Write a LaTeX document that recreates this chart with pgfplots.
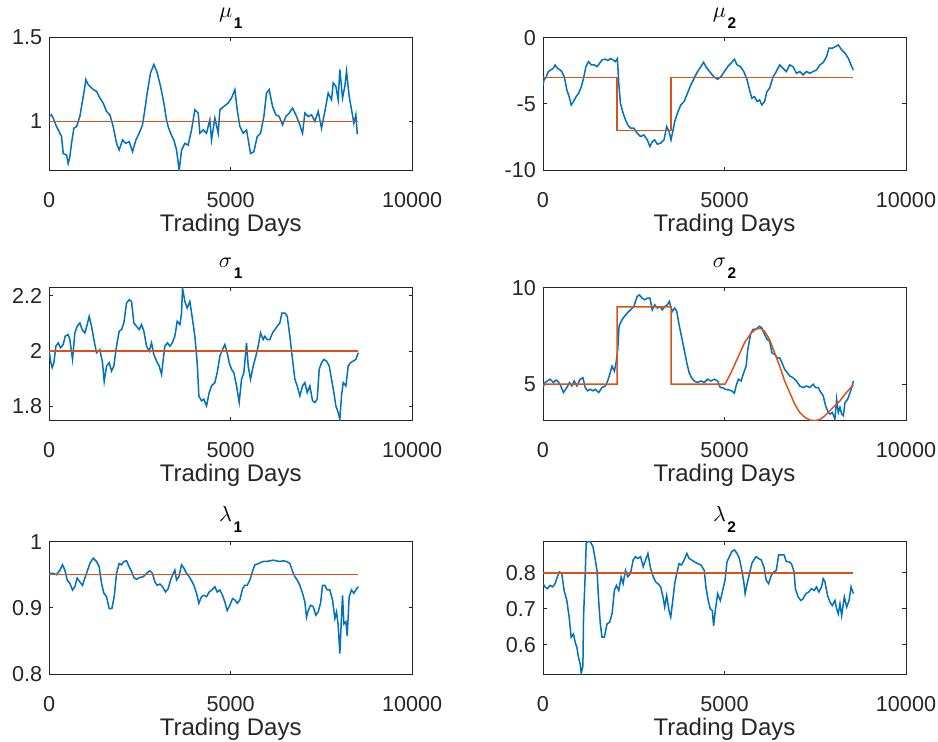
\documentclass[border=0pt]{standalone}
\usepackage{fontspec}
\setmainfont{Liberation Sans}
\usepackage{pgfplots}
\pgfplotsset{compat=1.18}
\definecolor{mblue}{RGB}{0,114,189}
\definecolor{morange}{RGB}{217,83,25}
\definecolor{axgray}{RGB}{38,38,38}
\pgfplotsset{
  mstyle/.style={
    scale only axis, width=181.5pt, height=66.3pt,
    xmin=0, xmax=10000, xtick={0,5000,10000},
    scaled x ticks=false, scaled y ticks=false,
    /pgf/number format/1000 sep={},
    /pgf/number format/assume math mode=true,
    tick align=inside, major tick length=1.8pt,
    axis line style={axgray, line width=0.5pt},
    every tick/.style={axgray, line width=0.5pt},
    tick label style={font=\fontsize{10.8}{13}\selectfont, text=axgray},
    xticklabel style={yshift=-7.4pt},
    xlabel={Trading Days},
    xlabel style={at={(axis description cs:0.5,0)}, anchor=base, yshift=-30.5pt, font=\fontsize{12}{14}\selectfont, text=axgray},
    every axis title shift=0pt,
    title style={at={(axis description cs:0.5,1)}, anchor=base, yshift=10pt, font=\fontsize{11}{13}\selectfont},
    every axis plot/.append style={line width=0.75pt},
    anchor=north west,
  }
}
\newcommand{\sub}[1]{\hspace{0.8pt}\raisebox{-5.5pt}{\fontsize{7.7}{9}\selectfont\bfseries #1}}
\begin{document}
\begin{tikzpicture}
\path[use as bounding box] (0,0) rectangle (469pt,-371pt);
% mu_1
\begin{axis}[mstyle, at={(24.6pt,-18.8pt)}, ymin=0.71, ymax=1.5, ytick={1,1.5}, title={$\mu$\sub{1}}]
\addplot[mblue] coordinates {(0,1.03)(64,1.04)(110,1.02)(202,0.97)(275,0.94)(340,0.91)(386,0.81)(478,0.80)(523,0.75)(569,0.79)(615,0.87)(680,0.96)(753,0.97)(845,1.03)(891,1.09)(955,1.17)(1010,1.25)(1074,1.22)(1212,1.19)(1304,1.18)(1396,1.14)(1488,1.11)(1579,1.06)(1671,1.04)(1763,0.97)(1855,0.87)(1928,0.83)(2020,0.89)(2112,0.87)(2204,0.88)(2296,0.82)(2388,0.89)(2479,0.93)(2571,0.98)(2635,1.07)(2700,1.17)(2792,1.29)(2883,1.34)(2975,1.29)(3067,1.21)(3159,1.11)(3232,1.01)(3278,0.97)(3343,0.93)(3434,0.89)(3508,0.83)(3581,0.71)(3646,0.83)(3737,0.87)(3829,0.86)(3921,0.95)(4013,1.07)(4105,1.05)(4151,0.93)(4242,0.95)(4334,0.93)(4426,1.01)(4472,0.89)(4564,1.02)(4656,0.93)(4702,1.07)(4812,1.09)(4931,1.11)(5023,1.14)(5115,1.19)(5179,1.07)(5253,0.97)(5344,0.93)(5436,0.95)(5546,0.81)(5638,0.82)(5730,0.91)(5822,0.93)(5914,1.03)(5987,1.17)(6061,1.19)(6152,1.09)(6244,1.04)(6336,1.03)(6428,0.98)(6520,1.03)(6612,1.05)(6703,1.08)(6795,1.04)(6887,0.99)(6979,0.93)(7043,1.05)(7135,1.03)(7227,1.04)(7319,1.00)(7410,1.06)(7502,0.96)(7594,1.06)(7686,1.17)(7778,1.13)(7824,1.23)(7897,1.21)(7961,1.13)(8007,1.31)(8081,1.14)(8145,1.21)(8191,1.30)(8264,1.15)(8329,1.07)(8393,0.99)(8448,1.04)(8485,0.93)(8512,0.93)};
\addplot[morange] coordinates {(0,1)(8512,1)};
\end{axis}
% mu_2
\begin{axis}[mstyle, at={(271.5pt,-18.8pt)}, ymin=-10, ymax=0, ytick={-10,-5,0}, title={$\mu$\sub{2}}]
\addplot[mblue] coordinates {(0,-3.57)(28,-3.19)(83,-2.99)(148,-2.56)(212,-2.44)(286,-2.31)(332,-2.06)(397,-2.31)(471,-2.44)(517,-2.56)(591,-2.99)(656,-3.94)(720,-4.45)(776,-5.08)(840,-4.82)(914,-4.45)(979,-4.20)(1053,-3.74)(1117,-3.07)(1182,-2.19)(1256,-1.81)(1330,-2.06)(1413,-2.06)(1487,-2.19)(1561,-1.93)(1625,-1.68)(1718,-1.63)(1791,-1.73)(1856,-1.58)(1930,-1.68)(1995,-1.81)(2050,-1.58)(2087,-3.44)(2133,-4.95)(2207,-5.70)(2272,-6.21)(2336,-6.58)(2410,-6.83)(2502,-6.83)(2595,-7.21)(2687,-7.46)(2779,-7.34)(2872,-7.71)(2946,-8.22)(3010,-7.84)(3075,-7.71)(3149,-8.04)(3241,-7.96)(3333,-7.71)(3407,-6.71)(3472,-7.09)(3527,-7.71)(3574,-7.09)(3629,-6.33)(3703,-5.70)(3795,-5.08)(3888,-4.82)(3980,-4.20)(4072,-3.57)(4165,-3.07)(4257,-2.56)(4349,-2.19)(4423,-1.86)(4488,-2.19)(4552,-2.44)(4626,-2.69)(4719,-2.99)(4811,-3.14)(4903,-2.94)(4996,-2.56)(5088,-2.19)(5180,-1.93)(5273,-1.63)(5346,-2.06)(5439,-2.19)(5531,-2.56)(5623,-3.19)(5688,-3.94)(5753,-4.57)(5827,-4.45)(5900,-4.82)(5965,-4.70)(6030,-5.08)(6104,-4.82)(6168,-4.07)(6242,-3.82)(6334,-2.99)(6427,-2.56)(6519,-2.06)(6611,-2.31)(6704,-2.56)(6796,-2.06)(6888,-2.19)(6981,-2.69)(7073,-2.56)(7165,-2.81)(7258,-2.56)(7350,-2.69)(7442,-2.56)(7535,-2.44)(7627,-2.06)(7719,-1.88)(7812,-1.43)(7876,-0.80)(7969,-0.80)(8061,-0.68)(8135,-0.55)(8227,-0.93)(8320,-1.18)(8412,-1.56)(8504,-2.19)(8550,-2.44)};
\addplot[morange] coordinates {(0,-3)(2040,-3)(2040,-7)(3527,-7)(3527,-3)(8550,-3)};
\end{axis}
% sigma_1
\begin{axis}[mstyle, at={(24.6pt,-143.8pt)}, ymin=1.75, ymax=2.23, ytick={1.8,2,2.2}, title={$\sigma$\sub{1}}]
\addplot[mblue] coordinates {(0,2.00)(37,1.964)(83,1.94)(129,1.958)(184,2.018)(248,2.03)(312,2.012)(386,2.024)(441,2.054)(523,2.06)(569,2.042)(643,1.97)(707,2.066)(771,2.09)(845,2.102)(909,2.078)(983,2.066)(1047,2.096)(1102,2.126)(1166,2.09)(1231,2.042)(1304,1.994)(1396,2.006)(1469,1.958)(1515,1.89)(1579,1.946)(1653,1.958)(1717,1.928)(1781,1.946)(1855,2.018)(1928,2.072)(1993,2.078)(2057,2.102)(2130,2.174)(2204,2.186)(2268,2.18)(2332,2.102)(2406,2.09)(2479,2.078)(2544,2.096)(2608,2.072)(2681,2.018)(2755,2.00)(2819,2.03)(2883,1.988)(2957,1.964)(3030,1.946)(3095,1.916)(3141,1.97)(3186,2.018)(3260,2.03)(3324,2.018)(3389,2.03)(3462,2.054)(3526,2.108)(3600,2.096)(3646,2.138)(3673,2.228)(3737,2.18)(3802,2.156)(3875,2.18)(3949,2.114)(4013,2.054)(4077,1.958)(4123,1.838)(4197,1.82)(4261,1.826)(4334,1.802)(4408,1.85)(4472,1.874)(4564,1.886)(4628,1.922)(4702,1.982)(4775,2.006)(4839,2.024)(4904,1.994)(4959,1.958)(5023,1.934)(5087,1.922)(5161,1.874)(5234,1.814)(5298,1.898)(5363,1.922)(5436,2.03)(5482,1.946)(5546,1.898)(5620,1.946)(5693,1.982)(5758,2.018)(5822,2.066)(5895,2.042)(5941,2.054)(6006,2.042)(6079,2.042)(6152,2.066)(6217,2.078)(6281,2.09)(6354,2.102)(6410,2.138)(6492,2.138)(6557,2.126)(6630,2.054)(6703,1.97)(6768,1.898)(6832,1.874)(6906,1.838)(6979,1.874)(7043,1.886)(7108,1.85)(7181,1.874)(7255,1.82)(7319,1.814)(7383,1.826)(7438,1.934)(7502,1.958)(7567,1.97)(7640,1.964)(7714,1.946)(7778,1.898)(7842,1.85)(7897,1.802)(7961,1.778)(8007,1.754)(8053,1.838)(8099,1.886)(8173,1.874)(8237,1.946)(8301,1.958)(8375,1.964)(8448,1.97)(8512,1.994)};
\addplot[morange] coordinates {(0,2)(8512,2)};
\end{axis}
% sigma_2
\begin{axis}[mstyle, at={(271.5pt,-143.8pt)}, ymin=3.14, ymax=10, ytick={5,10}, title={$\sigma$\sub{2}}]
\addplot[mblue] coordinates {(0,4.83)(55,5.09)(120,5.17)(194,5.26)(286,5.09)(360,5.22)(425,5.12)(489,4.91)(563,4.57)(656,4.83)(730,5.09)(794,4.91)(859,5.17)(933,4.91)(1025,5.26)(1099,5.34)(1163,4.83)(1228,4.66)(1302,4.74)(1376,4.66)(1441,4.74)(1533,4.57)(1625,4.83)(1718,4.91)(1782,5.17)(1838,5.51)(1902,5.94)(1967,5.68)(2013,6.11)(2059,6.80)(2096,8.00)(2133,8.17)(2179,8.34)(2244,8.51)(2318,8.68)(2410,8.85)(2502,9.02)(2595,9.54)(2659,9.62)(2733,9.45)(2798,9.37)(2872,9.45)(2946,9.45)(3010,8.85)(3075,9.11)(3149,8.94)(3223,9.02)(3287,8.85)(3352,9.02)(3426,9.11)(3481,9.28)(3518,9.02)(3564,8.77)(3629,8.94)(3684,8.77)(3740,8.17)(3814,7.48)(3888,6.80)(3961,6.11)(4026,5.60)(4091,5.34)(4165,5.17)(4257,5.09)(4349,5.17)(4442,5.09)(4534,5.26)(4626,5.17)(4719,5.26)(4811,5.17)(4885,4.83)(4949,4.83)(5014,4.74)(5106,4.71)(5198,4.66)(5273,4.54)(5319,4.91)(5383,5.26)(5457,5.17)(5531,5.60)(5596,5.94)(5642,6.80)(5716,7.57)(5781,7.83)(5873,7.86)(5965,8.00)(6030,7.91)(6104,7.57)(6178,7.31)(6242,7.23)(6307,6.63)(6381,6.54)(6455,6.37)(6519,6.37)(6584,6.11)(6658,5.77)(6731,5.60)(6796,5.43)(6888,5.34)(6981,5.17)(7073,4.91)(7165,4.83)(7258,4.91)(7350,4.83)(7442,5.00)(7507,4.83)(7581,4.83)(7655,4.57)(7719,4.40)(7784,3.89)(7858,3.54)(7904,3.46)(7969,3.54)(8043,3.20)(8089,4.23)(8135,3.54)(8181,3.80)(8227,3.46)(8274,3.37)(8320,4.06)(8394,4.23)(8458,4.57)(8504,4.83)(8550,5.17)};
\addplot[morange] coordinates {(0,5)(2040,5)(2040,9)(3527,9)(3527,5)(5014,5)(5180,5.6)(5365,6.37)(5550,7.14)(5734,7.65)(5873,7.86)(5993,7.89)(6104,7.74)(6242,7.31)(6381,6.63)(6519,5.94)(6658,5.17)(6796,4.57)(6935,3.97)(7073,3.54)(7212,3.29)(7350,3.15)(7489,3.12)(7627,3.17)(7766,3.37)(7904,3.63)(8043,3.89)(8181,4.14)(8320,4.49)(8458,4.78)(8550,4.97)};
\end{axis}
% lambda_1
\begin{axis}[mstyle, at={(24.6pt,-270.8pt)}, ymin=0.8, ymax=1, ytick={0.8,0.9,1}, title={$\lambda$\sub{1}}]
\addplot[mblue] coordinates {(0,0.952)(110,0.952)(202,0.950)(294,0.957)(367,0.965)(432,0.957)(496,0.942)(569,0.937)(643,0.927)(707,0.932)(771,0.945)(845,0.939)(918,0.934)(983,0.945)(1047,0.955)(1120,0.967)(1212,0.975)(1304,0.970)(1377,0.962)(1442,0.937)(1506,0.922)(1579,0.917)(1653,0.899)(1726,0.899)(1791,0.917)(1855,0.952)(1928,0.967)(1993,0.965)(2057,0.970)(2130,0.971)(2204,0.962)(2268,0.955)(2332,0.946)(2406,0.943)(2498,0.946)(2590,0.947)(2681,0.952)(2773,0.956)(2847,0.952)(2911,0.939)(2975,0.934)(3049,0.936)(3122,0.932)(3205,0.924)(3278,0.929)(3343,0.942)(3416,0.952)(3462,0.957)(3508,0.942)(3572,0.947)(3646,0.965)(3710,0.960)(3783,0.952)(3857,0.947)(3921,0.941)(3985,0.934)(4059,0.922)(4123,0.907)(4197,0.917)(4261,0.919)(4334,0.917)(4408,0.924)(4481,0.927)(4564,0.932)(4628,0.924)(4702,0.927)(4775,0.919)(4839,0.909)(4904,0.896)(4977,0.904)(5051,0.914)(5115,0.912)(5179,0.907)(5253,0.912)(5326,0.929)(5390,0.934)(5455,0.934)(5528,0.942)(5601,0.955)(5666,0.965)(5730,0.966)(5804,0.968)(5895,0.970)(5987,0.970)(6079,0.971)(6171,0.972)(6263,0.971)(6354,0.970)(6446,0.971)(6538,0.970)(6630,0.967)(6703,0.955)(6768,0.947)(6832,0.942)(6906,0.934)(6979,0.922)(7043,0.909)(7089,0.886)(7135,0.896)(7199,0.904)(7273,0.902)(7346,0.889)(7410,0.894)(7475,0.907)(7530,0.934)(7594,0.934)(7659,0.927)(7732,0.927)(7805,0.912)(7870,0.884)(7916,0.894)(7961,0.874)(8007,0.831)(8044,0.876)(8081,0.919)(8118,0.876)(8173,0.879)(8209,0.858)(8264,0.917)(8329,0.927)(8393,0.922)(8448,0.927)(8512,0.932)};
\addplot[morange] coordinates {(0,0.95)(8512,0.95)};
\end{axis}
% lambda_2
\begin{axis}[mstyle, at={(271.5pt,-270.8pt)}, ymin=0.518, ymax=0.887, ytick={0.6,0.7,0.8}, title={$\lambda$\sub{2}}]
\addplot[mblue] coordinates {(0,0.770)(55,0.761)(120,0.756)(194,0.765)(268,0.761)(332,0.770)(397,0.789)(452,0.803)(517,0.798)(582,0.751)(656,0.723)(720,0.677)(776,0.621)(840,0.630)(886,0.607)(933,0.593)(979,0.564)(1025,0.546)(1053,0.520)(1099,0.541)(1117,0.677)(1163,0.798)(1191,0.882)(1228,0.887)(1302,0.887)(1376,0.873)(1441,0.836)(1487,0.807)(1533,0.723)(1579,0.658)(1625,0.621)(1690,0.621)(1764,0.658)(1838,0.663)(1902,0.686)(1967,0.751)(2022,0.765)(2087,0.751)(2152,0.789)(2207,0.770)(2272,0.807)(2336,0.789)(2410,0.798)(2484,0.836)(2549,0.845)(2613,0.840)(2687,0.845)(2761,0.817)(2826,0.836)(2890,0.854)(2964,0.812)(3038,0.789)(3103,0.775)(3167,0.770)(3241,0.761)(3306,0.733)(3352,0.705)(3407,0.737)(3472,0.695)(3518,0.677)(3564,0.714)(3629,0.770)(3684,0.798)(3749,0.826)(3814,0.822)(3888,0.836)(3961,0.854)(4026,0.840)(4091,0.836)(4165,0.831)(4257,0.826)(4349,0.822)(4442,0.807)(4488,0.761)(4552,0.723)(4608,0.700)(4663,0.695)(4700,0.653)(4746,0.695)(4811,0.742)(4885,0.723)(4949,0.751)(5014,0.779)(5069,0.831)(5134,0.845)(5199,0.859)(5273,0.864)(5346,0.854)(5411,0.840)(5476,0.807)(5531,0.775)(5568,0.742)(5623,0.770)(5688,0.798)(5753,0.826)(5808,0.836)(5873,0.845)(5938,0.840)(6011,0.836)(6085,0.817)(6150,0.779)(6215,0.770)(6288,0.793)(6362,0.803)(6427,0.807)(6492,0.850)(6565,0.850)(6639,0.850)(6704,0.831)(6768,0.831)(6842,0.826)(6916,0.803)(6953,0.756)(7027,0.733)(7101,0.723)(7165,0.728)(7240,0.742)(7323,0.747)(7396,0.756)(7470,0.751)(7535,0.761)(7600,0.747)(7673,0.761)(7719,0.784)(7766,0.775)(7840,0.737)(7904,0.719)(7969,0.709)(8043,0.723)(8089,0.700)(8135,0.686)(8181,0.714)(8227,0.681)(8301,0.733)(8366,0.705)(8431,0.723)(8486,0.761)(8550,0.742)};
\addplot[morange] coordinates {(0,0.8)(8550,0.8)};
\end{axis}
\end{tikzpicture}
\end{document}
